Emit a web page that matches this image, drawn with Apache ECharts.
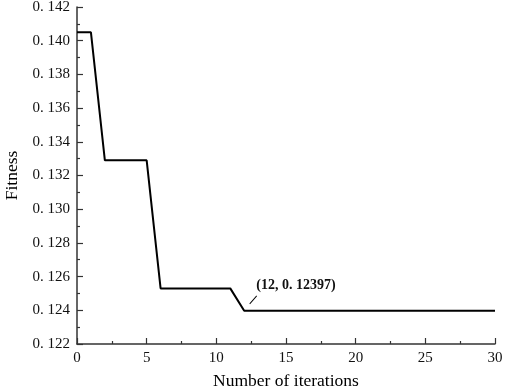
<!DOCTYPE html>
<html>
<head>
<meta charset="utf-8">
<script src="https://cdn.jsdelivr.net/npm/echarts@6/dist/echarts.min.js"></script>
<style>
  html, body { margin: 0; padding: 0; background: #fff; }
  #chart { width: 505px; height: 390px; }
</style>
</head>
<body>
<div id="chart"></div>
<script>
// iteration steps where fitness changes
const iterations = [0, 1, 2, 5, 6, 11, 12, 30]
const fitness = [0.1405, 0.1405, 0.1329, 0.1329, 0.1253, 0.1253, 0.12397, 0.12397]
const bestPoint = [12, 0.12397]
const bestLabel = '(12, 0. 12397)'

const seriesData = iterations.map((x, i) => [x, fitness[i]])
const serif = 'Liberation Serif'

let mychart = echarts.init(document.getElementById('chart'))
let option = {
  animation: false,
  grid: { left: 77, right: 10, top: 7, bottom: 46, containLabel: false, outerBoundsMode: 'none' },
  xAxis: {
    type: 'value',
    min: 0,
    max: 30,
    interval: 5,
    name: 'Number of iterations',
    nameLocation: 'middle',
    nameGap: 28,
    nameTextStyle: { fontFamily: serif, fontSize: 17.5, color: '#000' },
    axisLine: { show: true, lineStyle: { color: '#333', width: 1.5 } },
    axisTick: { inside: true, length: 6, lineStyle: { color: '#333', width: 1.2 } },
    minorTick: { show: true, splitNumber: 2, length: 3, lineStyle: { color: '#333', width: 1.2 } },
    axisLabel: { fontFamily: serif, fontSize: 15, color: '#111', margin: 7 },
    splitLine: { show: false }
  },
  yAxis: {
    type: 'value',
    min: 0.122,
    max: 0.142,
    interval: 0.002,
    name: 'Fitness',
    nameLocation: 'middle',
    nameGap: 56,
    nameTextStyle: { fontFamily: serif, fontSize: 17.5, color: '#000' },
    axisLine: { show: true, lineStyle: { color: '#333', width: 1.5 } },
    axisTick: { inside: true, length: 6, lineStyle: { color: '#333', width: 1.2 } },
    minorTick: { show: true, splitNumber: 2, length: 3, lineStyle: { color: '#333', width: 1.2 } },
    axisLabel: {
      fontFamily: serif,
      fontSize: 15,
      color: '#111',
      margin: 7,
      formatter: v => v.toFixed(3).replace('.', '. ')
    },
    splitLine: { show: false }
  },
  series: [
    {
      type: 'line',
      data: seriesData,
      symbol: 'none',
      lineStyle: { color: '#000', width: 2 },
      markPoint: {
        symbol: 'path://M0,10 L10,0',
        symbolSize: [7, 8],
        symbolOffset: [9, -11],
        itemStyle: { color: 'none', borderColor: '#000', borderWidth: 1 },
        label: {
          show: true,
          position: [9, -8],
          align: 'left',
          verticalAlign: 'middle',
          fontFamily: serif,
          fontSize: 14,
          fontWeight: 'bold',
          color: '#111',
          formatter: bestLabel
        },
        data: [{ coord: bestPoint }]
      }
    }
  ]
}
mychart.setOption(option)
</script>
</body>
</html>
